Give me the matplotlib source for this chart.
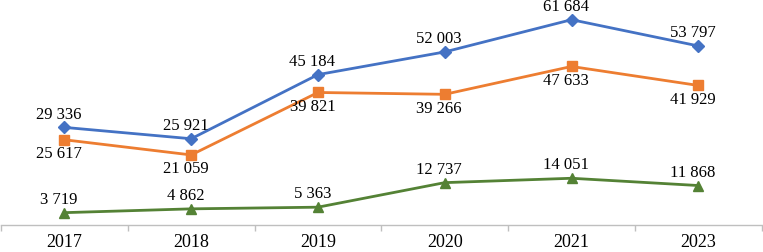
import matplotlib
matplotlib.use("Agg")
import matplotlib.pyplot as plt
import numpy as np

years = ["2017", "2018", "2019", "2020", "2021", "2023"]
blue_vals = [29336, 25921, 45184, 52003, 61684, 53797]
orange_vals = [25617, 21059, 39821, 39266, 47633, 41929]
green_vals = [3719, 4862, 5363, 12737, 14051, 11868]

plt.rcParams['font.family'] = ['Liberation Serif', 'DejaVu Serif']

fig = plt.figure(figsize=(7.63, 2.52), dpi=100)
ax = fig.add_axes([0.0013, 0.107, 0.997, 0.893])

x = np.arange(len(years))

def fmt(v):
    return f"{v:,}".replace(",", " ")

series = [
    (blue_vals, "#4472C4", "D", 6.5, 3.5),
    (orange_vals, "#ED7D31", "s", 7, -4.5),
    (green_vals, "#548235", "^", 6.5, 3.5),
]
for vals, col, mk, ms, off in series:
    ax.plot(x, vals, color=col, lw=2, marker=mk, ms=ms, zorder=3)
    for xi, v in zip(x, vals):
        ax.annotate(fmt(v), (xi, v), xytext=(-4, off), textcoords="offset points",
                    ha="center", va="bottom" if off > 0 else "top", fontsize=12)

ax.set_xlim(-0.5, len(years) - 0.5)
ax.set_ylim(0, 67600)
for s in ["top", "right", "left"]:
    ax.spines[s].set_visible(False)
ax.spines["bottom"].set_color("#bfbfbf")
ax.spines["bottom"].set_linewidth(1)
ax.set_yticks([])
ax.set_xticks(x)
ax.set_xticklabels(years, fontsize=13)
ax.tick_params(axis="x", which="major", length=0, pad=6.5)
ax.set_xticks(np.arange(-0.5, len(years)), minor=True)
ax.tick_params(axis="x", which="minor", length=4, color="#bfbfbf", width=1)
ax.patch.set_alpha(0)

fig.savefig("out.png", dpi=100)
